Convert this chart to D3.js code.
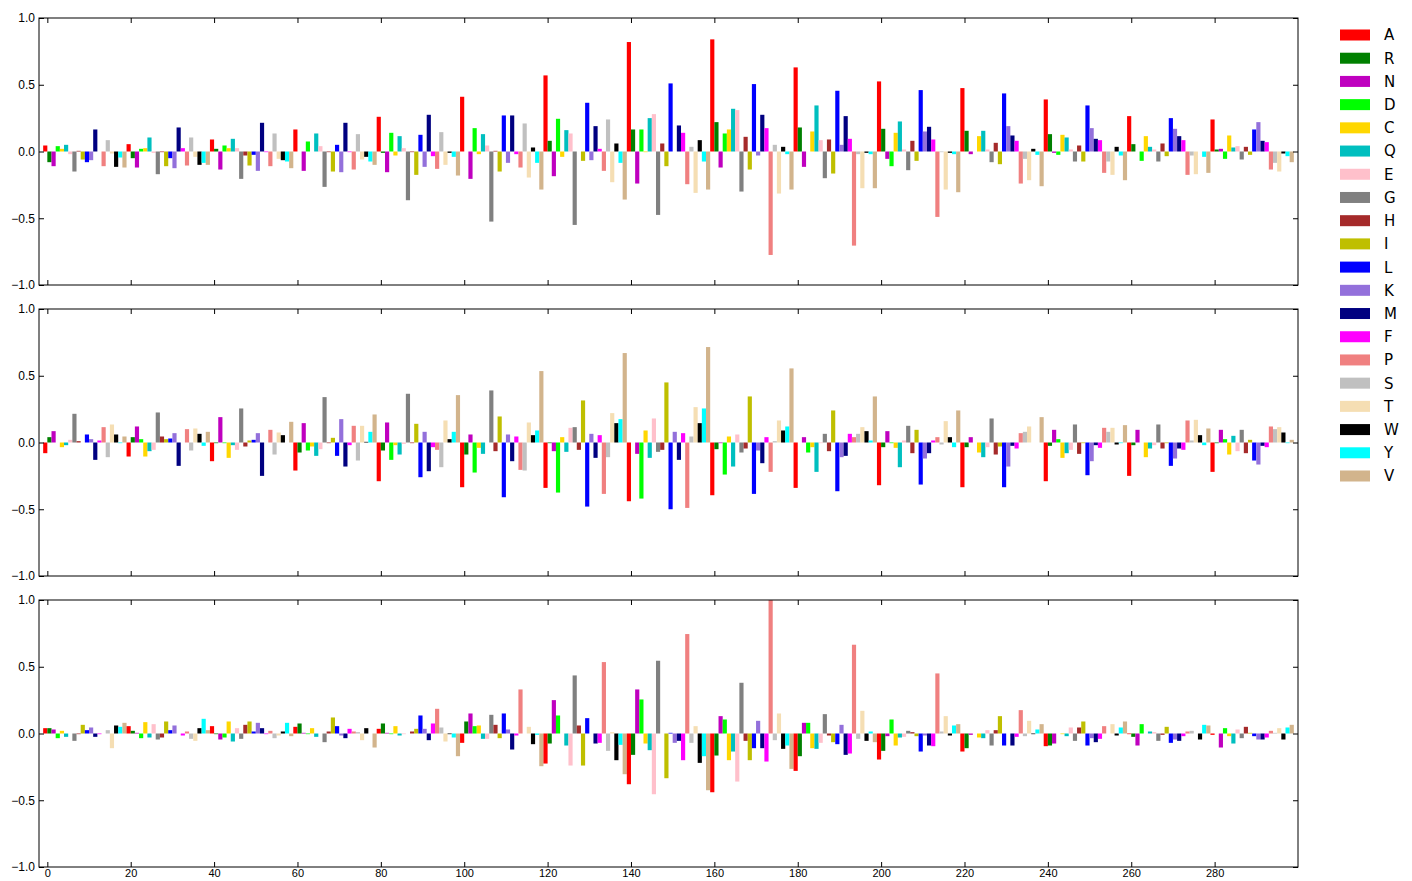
<!DOCTYPE html>
<html>
<head>
<meta charset="utf-8">
<script src="https://cdn.jsdelivr.net/npm/d3@7"></script>
<style>
  body { margin: 0; background: #fff; }
  svg { display: block; font-family: "DejaVu Sans", sans-serif; }
  .axis path { display: none; }
  .axis line { stroke: #000; }
  .axis text { font-size: 12px; fill: #000; }
  .xlabels text { font-size: 11px; }
</style>
</head>
<body>
<svg id="chart" width="1412" height="881"></svg>
<script>
// residue order used for bar colours (cycles every 20 positions)
const aminoAcids = ['A','R','N','D','C','Q','E','G','H','I','L','K','M','F','P','S','T','W','Y','V'];
const aaColors = ['#ff0000','#008000','#bf00bf','#00ff00','#ffd700','#00bfbf','#ffc0cb','#808080','#a52a2a','#bfbf00',
                  '#0000ff','#9370db','#000080','#ff00ff','#f08080','#c0c0c0','#f5deb3','#000000','#00ffff','#d2b48c'];

const yTicks = [-1, -0.5, 0, 0.5, 1];
const xTicks = [0, 20, 40, 60, 80, 100, 120, 140, 160, 180, 200, 220, 240, 260, 280];

const panel1 = [
  0.045, -0.08, -0.11, 0.04, 0.02, 0.05, -0.02, -0.15, 0.005, -0.06, -0.08, -0.065, 0.165, 0, -0.11, 0.085, -0.015, -0.115, -0.045, -0.12,
  0.055, -0.05, -0.12, 0.02, 0.025, 0.105, -0.01, -0.17, -0.005, -0.11, -0.05, -0.125, 0.18, 0.025, -0.105, 0.105, -0.04, -0.1, -0.085, -0.1,
  0.09, 0.02, -0.135, 0.045, 0.025, 0.095, 0.025, -0.205, -0.03, -0.105, -0.025, -0.145, 0.215, -0.005, -0.11, 0.135, -0.055, -0.065, -0.075, -0.125,
  0.165, 0, -0.145, 0.075, 0, 0.135, 0.04, -0.265, -0.005, -0.15, 0.05, -0.155, 0.215, -0.005, -0.135, 0.13, -0.06, -0.04, -0.075, -0.1,
  0.26, -0.01, -0.155, 0.14, -0.03, 0.115, 0.025, -0.365, -0.005, -0.175, 0.125, -0.115, 0.275, -0.035, -0.13, 0.145, -0.1, -0.01, -0.04, -0.18,
  0.41, 0, -0.205, 0.175, -0.02, 0.13, 0.045, -0.525, 0.005, -0.15, 0.27, -0.085, 0.27, -0.02, -0.12, 0.21, -0.195, 0.03, -0.085, -0.285,
  0.57, 0.08, -0.185, 0.245, -0.04, 0.16, 0.135, -0.55, 0, -0.07, 0.365, -0.065, 0.19, 0.02, -0.145, 0.24, -0.23, 0.06, -0.085, -0.36,
  0.82, 0.165, -0.24, 0.165, -0.005, 0.25, 0.28, -0.475, 0.06, -0.11, 0.51, 0, 0.195, 0.14, -0.245, 0.035, -0.31, 0.085, -0.075, -0.285,
  0.84, 0.22, -0.12, 0.135, 0.165, 0.32, 0.31, -0.3, 0.11, -0.135, 0.505, -0.03, 0.275, 0.175, -0.775, 0.05, -0.315, 0.035, -0.02, -0.285,
  0.63, 0.18, -0.115, 0, 0.15, 0.345, 0.085, -0.2, 0.09, -0.165, 0.455, 0.05, 0.265, 0.095, -0.705, -0.02, -0.275, -0.01, -0.02, -0.275,
  0.525, 0.17, -0.055, -0.11, 0.14, 0.225, 0.015, -0.14, 0.08, -0.07, 0.46, 0.15, 0.185, 0.09, -0.49, -0.005, -0.285, -0.01, -0.02, -0.305,
  0.475, 0.155, -0.02, 0, 0.115, 0.155, 0.015, -0.08, 0.065, -0.095, 0.435, 0.19, 0.12, 0.08, -0.24, -0.055, -0.215, 0.02, -0.025, -0.26,
  0.39, 0.13, -0.01, -0.025, 0.125, 0.105, 0.015, -0.075, 0.045, -0.075, 0.345, 0.175, 0.095, 0.085, -0.16, -0.075, -0.175, 0.035, -0.03, -0.215,
  0.265, 0.055, 0, -0.07, 0.115, 0.035, 0.015, -0.075, 0.06, -0.035, 0.25, 0.17, 0.115, 0.085, -0.175, -0.03, -0.17, 0, -0.04, -0.16,
  0.24, 0.015, 0.02, -0.055, 0.12, 0.03, 0.04, -0.06, 0.035, -0.025, 0.165, 0.22, 0.08, 0.07, -0.135, -0.085, -0.15, -0.015, -0.035, -0.08
];

const panel2 = [
  -0.08, 0.04, 0.085, 0, -0.035, -0.02, 0.02, 0.215, 0.01, 0, 0.06, 0.025, -0.13, 0.015, 0.115, -0.11, 0.135, 0.06, -0.005, 0.045,
  -0.105, 0.04, 0.12, 0.025, -0.105, -0.065, -0.055, 0.225, 0.045, 0.025, 0.03, 0.07, -0.175, 0, 0.1, -0.06, 0.105, 0.065, -0.025, 0.08,
  -0.14, -0.005, 0.19, -0.005, -0.115, -0.02, -0.055, 0.255, -0.03, 0.015, 0.02, 0.07, -0.25, 0, 0.095, -0.09, 0.075, 0.055, 0, 0.155,
  -0.21, -0.075, 0.145, -0.06, -0.03, -0.1, -0.05, 0.34, -0.005, 0.035, -0.1, 0.175, -0.18, -0.02, 0.125, -0.135, 0.125, 0.005, 0.08, 0.21,
  -0.29, -0.06, 0.15, -0.13, -0.02, -0.09, -0.01, 0.365, -0.005, 0.14, -0.26, 0.08, -0.215, -0.035, -0.055, -0.185, 0.165, 0.025, 0.08, 0.355,
  -0.335, -0.09, 0.06, -0.225, -0.04, -0.085, 0, 0.39, -0.065, 0.195, -0.41, 0.06, -0.14, 0.045, -0.205, -0.21, 0.15, 0.055, 0.09, 0.535,
  -0.34, -0.005, -0.065, -0.375, 0.04, -0.07, 0.11, 0.115, -0.055, 0.315, -0.48, 0.065, -0.115, 0.055, -0.385, -0.11, 0.22, 0.145, 0.175, 0.67,
  -0.44, 0, -0.085, -0.42, 0.09, -0.115, 0.18, -0.07, -0.055, 0.45, -0.5, 0.08, -0.13, 0.07, -0.49, 0.045, 0.265, 0.145, 0.255, 0.715,
  -0.395, -0.05, -0.005, -0.24, 0.045, -0.18, 0.06, -0.075, -0.045, 0.345, -0.385, -0.06, -0.155, 0.04, -0.22, 0.01, 0.165, 0.09, 0.12, 0.555,
  -0.34, 0, 0.04, -0.075, -0.035, -0.22, -0.005, 0.065, -0.065, 0.24, -0.365, -0.11, -0.1, 0.065, 0.04, 0.065, 0.115, 0.085, 0.015, 0.345,
  -0.32, -0.035, 0.085, -0.005, -0.04, -0.185, 0.015, 0.125, -0.08, 0.095, -0.315, -0.12, -0.08, 0.015, 0.04, -0.015, 0.16, 0.04, -0.035, 0.24,
  -0.335, -0.035, 0.04, 0, -0.075, -0.11, -0.035, 0.18, -0.09, -0.03, -0.335, -0.18, -0.025, -0.045, 0.07, 0.08, 0.12, 0, 0, 0.19,
  -0.29, -0.025, 0.095, 0.025, -0.115, -0.08, -0.055, 0.135, -0.085, -0.005, -0.245, -0.14, -0.02, -0.04, 0.11, 0.08, 0.11, -0.015, -0.005, 0.13,
  -0.25, -0.02, 0.095, 0, -0.11, -0.045, -0.02, 0.135, -0.045, -0.005, -0.175, -0.12, -0.045, -0.055, 0.165, 0.015, 0.17, 0.055, -0.02, 0.105,
  -0.22, -0.005, 0.095, 0.025, -0.09, 0.05, -0.065, 0.095, -0.08, 0.02, -0.135, -0.165, -0.025, -0.035, 0.12, 0.1, 0.115, 0.075, -0.005, 0.02
];

const panel3 = [
  0.04, 0.04, 0.03, -0.035, 0.02, -0.025, 0, -0.055, -0.005, 0.065, 0.025, 0.045, -0.025, -0.005, 0, 0.025, -0.11, 0.06, 0.05, 0.08,
  0.055, 0.02, 0.005, -0.035, 0.085, -0.03, 0.07, -0.045, -0.03, 0.09, 0.025, 0.06, 0, -0.015, 0.015, -0.04, -0.055, 0.04, 0.11, 0.025,
  0.055, -0.005, -0.045, -0.03, 0.09, -0.06, 0.04, -0.04, 0.065, 0.09, 0.015, 0.08, 0.04, -0.005, 0.02, -0.035, -0.015, 0.015, 0.08, -0.02,
  0.05, 0.075, 0.005, -0.005, 0.04, -0.025, 0, -0.065, 0.015, 0.12, 0.055, -0.015, -0.035, 0.035, 0.015, 0.01, -0.05, 0.04, 0, -0.105,
  0.035, 0.075, 0.005, -0.005, 0.055, -0.015, -0.005, 0, 0.015, 0.035, 0.135, 0.035, -0.05, 0.075, 0.185, 0.045, -0.06, -0.005, -0.03, -0.17,
  -0.07, 0.09, 0.15, 0.055, 0.06, -0.04, -0.04, 0.14, 0.065, -0.035, 0.15, 0.03, -0.12, -0.015, 0.33, 0, 0.05, -0.08, -0.01, -0.245,
  -0.225, -0.075, 0.25, 0.135, 0, -0.09, -0.24, 0.435, 0.06, -0.24, 0.115, 0, -0.075, -0.07, 0.535, -0.13, 0.01, -0.2, -0.085, -0.305,
  -0.38, -0.16, 0.33, 0.255, -0.075, -0.125, -0.455, 0.545, 0, -0.335, 0.005, -0.07, -0.055, -0.2, 0.745, -0.07, 0.055, -0.22, -0.17, -0.425,
  -0.44, -0.165, 0.13, 0.105, -0.2, -0.135, -0.36, 0.38, -0.055, -0.2, -0.11, 0.095, -0.11, -0.21, 1.0, -0.05, 0.15, -0.115, -0.09, -0.265,
  -0.28, -0.17, 0.08, 0.08, -0.11, -0.115, -0.07, 0.145, -0.015, -0.065, -0.08, 0.065, -0.16, -0.15, 0.665, -0.04, 0.17, -0.055, 0.015, -0.065,
  -0.195, -0.13, -0.02, 0.105, -0.09, -0.03, -0.025, 0.02, 0.01, -0.02, -0.135, -0.015, -0.09, -0.095, 0.45, 0.015, 0.13, -0.015, 0.06, 0.07,
  -0.135, -0.11, -0.01, 0, -0.03, -0.035, 0.025, -0.09, 0.025, 0.13, -0.09, 0, -0.09, -0.025, 0.175, -0.02, 0.095, -0.005, 0.03, 0.07,
  -0.095, -0.09, -0.075, 0, -0.005, -0.02, 0.045, -0.055, 0.045, 0.09, -0.09, -0.035, -0.065, -0.04, 0.055, 0, 0.07, -0.015, 0.045, 0.09,
  -0.005, -0.025, -0.09, 0.07, 0, 0.015, 0.01, -0.055, -0.01, 0.05, -0.07, -0.045, -0.055, -0.02, 0.015, 0.02, 0, -0.045, 0.065, 0.06,
  -0.01, 0, -0.105, 0.04, -0.02, -0.075, 0.03, -0.035, 0.05, 0.005, -0.02, -0.045, -0.045, -0.03, 0.02, 0.005, 0.04, -0.045, 0.045, 0.065
];

const panels = [panel1, panel2, panel3];

const svg = d3.select('#chart');
const left = 39, right = 1298;
const panelTops = [18, 309, 600];
const panelHeight = 267;

const x = d3.scaleLinear().domain([-2, 300]).range([left, right]);
const fmt = d3.format('.1f');

panels.forEach((values, p) => {
  const top = panelTops[p];
  const y = d3.scaleLinear().domain([-1, 1]).range([top + panelHeight, top]);
  const g = svg.append('g');

  const clipId = 'clip' + p;
  svg.append('clipPath').attr('id', clipId)
    .append('rect').attr('x', left).attr('y', top).attr('width', right - left).attr('height', panelHeight);

  g.append('g').attr('clip-path', 'url(#' + clipId + ')')
    .selectAll('rect')
    .data(values)
    .enter().append('rect')
    .attr('x', (d, i) => x(i - 1))
    .attr('width', (d, i) => x(i) - x(i - 1))
    .attr('y', d => y(Math.max(0, d)))
    .attr('height', d => Math.abs(y(d) - y(0)))
    .attr('fill', (d, i) => aaColors[i % 20]);

  // ticks point inward on all four sides, classic matplotlib style
  g.append('g').attr('class', 'axis')
    .attr('transform', 'translate(' + left + ',0)')
    .call(d3.axisLeft(y).tickValues(yTicks).tickSize(-5).tickPadding(4).tickFormat(fmt));
  g.append('g').attr('class', 'axis')
    .attr('transform', 'translate(' + right + ',0)')
    .call(d3.axisRight(y).tickValues(yTicks).tickSize(-5).tickFormat(''));
  g.append('g').attr('class', 'axis')
    .attr('transform', 'translate(0,' + top + ')')
    .call(d3.axisTop(x).tickValues(xTicks).tickSize(-5).tickFormat(''));
  g.append('g').attr('class', 'axis xlabels')
    .attr('transform', 'translate(0,' + (top + panelHeight) + ')')
    .call(d3.axisBottom(x).tickValues(xTicks).tickSize(-5).tickPadding(2)
      .tickFormat(p === 2 ? d3.format('d') : ''));

  g.append('rect')
    .attr('x', left).attr('y', top)
    .attr('width', right - left).attr('height', panelHeight)
    .attr('fill', 'none').attr('stroke', '#000').attr('stroke-width', 1);
});

// legend
const legend = svg.append('g').attr('transform', 'translate(1340,35)');
const ly = d3.scaleLinear().domain([0, 19]).range([0, 441]);
const entry = legend.selectAll('g')
  .data(aminoAcids)
  .enter().append('g')
  .attr('transform', (d, i) => 'translate(0,' + ly(i) + ')');
entry.append('rect')
  .attr('x', 0).attr('y', -5.5).attr('width', 30).attr('height', 11)
  .attr('fill', (d, i) => aaColors[i]);
entry.append('text')
  .attr('x', 44).attr('y', 0).attr('dy', '0.36em')
  .attr('font-size', '15px')
  .text(d => d);
</script>
</body>
</html>
